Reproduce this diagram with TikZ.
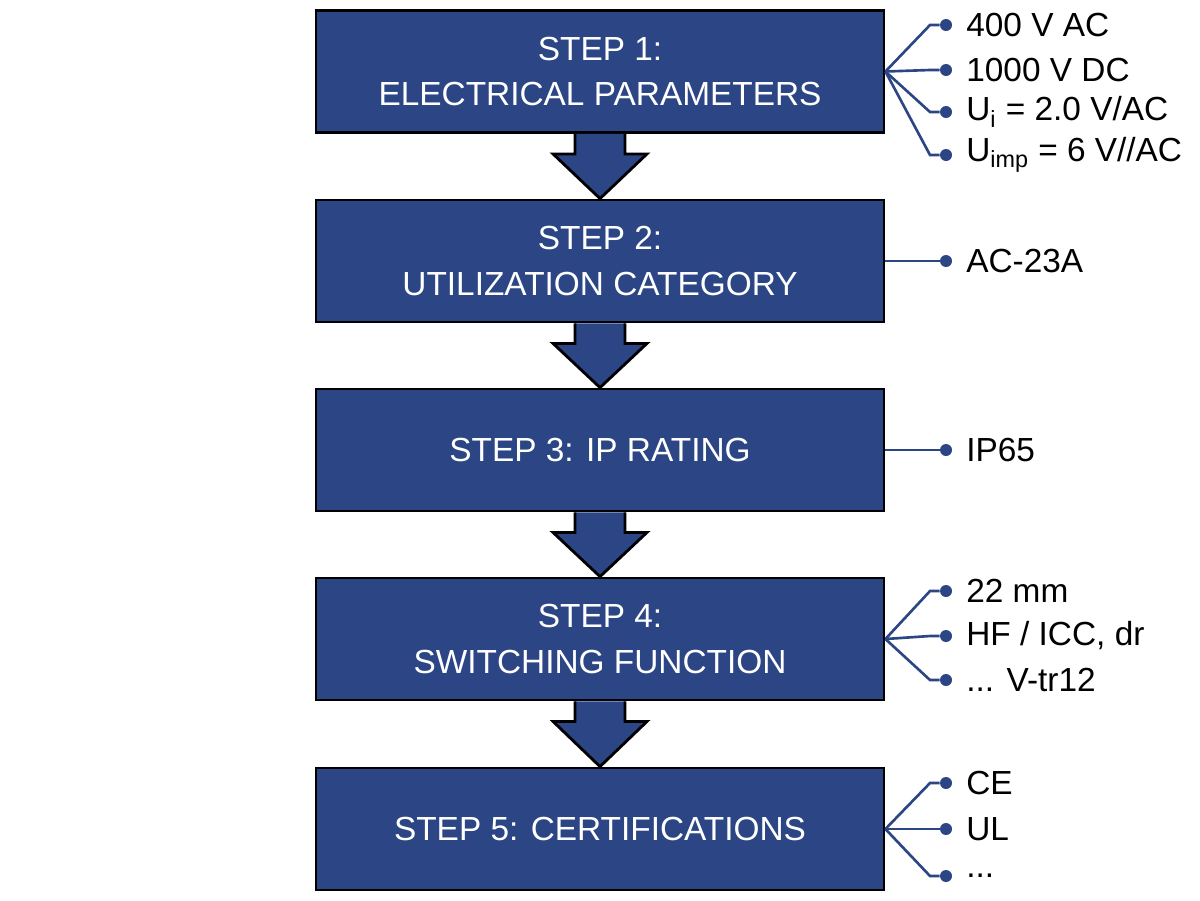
\documentclass[tikz,border=0pt]{standalone}
\usepackage{fontspec}
\setmainfont{Liberation Sans}
\usetikzlibrary{calc}
\definecolor{stepblue}{HTML}{2B4585}
\begin{document}
\begin{tikzpicture}[
  stage/.style={draw=black, line width=1.6pt, fill=stepblue, text=white, minimum width=11.36cm, minimum height=2.44cm, align=center, font=\fontsize{19}{26}\selectfont},
  flow/.style={draw=black, line width=1.6pt, fill=stepblue, line join=miter},
  dot/.style={circle, fill=stepblue, inner sep=0pt, minimum size=0.24cm},
  item/.style={anchor=west, inner sep=0pt, font=\fontsize{19}{22}\selectfont},
  wire/.style={draw=stepblue, line width=1.5pt}]
\useasboundingbox (0,0) rectangle (24,-18);
\node [stage] (s1) at (12,-1.43) {STEP 1:\\ELECTRICAL PARAMETERS};
\node [stage] (s2) at (12,-5.22) {STEP 2:\\UTILIZATION CATEGORY};
\node [stage] (s3) at (12,-9.0) {STEP 3: IP RATING};
\node [stage] (s4) at (12,-12.78) {STEP 4:\\SWITCHING FUNCTION};
\node [stage] (s5) at (12,-16.58) {STEP 5: CERTIFICATIONS};

% block arrows between the steps
\foreach \a/\b in {s1/s2, s2/s3, s3/s4, s4/s5} {
  \draw [flow] ($(\a.south)+(-0.5,0)$) -- ($(\a.south)+(-0.5,-0.4)$) -- ($(\a.south)+(-0.94,-0.4)$)
    -- (\b.north) -- ($(\a.south)+(0.94,-0.4)$) -- ($(\a.south)+(0.5,-0.4)$) -- ($(\a.south)+(0.5,0)$);
}

% items of step 1
\node [dot] (d11) at (18.92,-0.50) {};
\node [dot] (d12) at (18.92,-1.40) {};
\node [dot] (d13) at (18.92,-2.24) {};
\node [dot] (d14) at (18.92,-3.10) {};
\node [item] (t11) at (19.32,-0.50) {400 V AC};
\node [item] (t12) at (19.32,-1.40) {1000 V DC};
\node [item] (t13) at (19.32,-2.24) {U\textsubscript{i} = 2.0 V/AC};
\node [item] (t14) at (19.32,-3.10) {U\textsubscript{imp} = 6 V//AC};
\draw [wire] (s1.east) -- (18.6,-0.50) -- (d11);
\draw [wire] (s1.east) -- (18.6,-1.40) -- (d12);
\draw [wire] (s1.east) -- (18.6,-2.24) -- (d13);
\draw [wire] (s1.east) -- (18.6,-3.10) -- (d14);

% items of steps 2 and 3
\node [dot] (d21) at (18.92,-5.22) {};
\node [item] (t21) at (19.32,-5.22) {AC-23A};
\draw [wire] (s2.east) -- (d21);
\node [dot] (d31) at (18.92,-9.0) {};
\node [item] (t31) at (19.32,-9.0) {IP65};
\draw [wire] (s3.east) -- (d31);

% items of step 4
\node [dot] (d41) at (18.92,-11.82) {};
\node [dot] (d42) at (18.92,-12.72) {};
\node [dot] (d43) at (18.92,-13.60) {};
\node [item] (t41) at (19.32,-11.82) {22 mm};
\node [item] (t42) at (19.32,-12.72) {HF / ICC, dr};
\node [item] (t43) at (19.32,-13.60) {... V-tr12};
\draw [wire] (s4.east) -- (18.6,-11.82) -- (d41);
\draw [wire] (s4.east) -- (18.6,-12.72) -- (d42);
\draw [wire] (s4.east) -- (18.6,-13.60) -- (d43);

% items of step 5
\node [dot] (d51) at (18.92,-15.66) {};
\node [dot] (d52) at (18.92,-16.58) {};
\node [dot] (d53) at (18.92,-17.52) {};
\node [item] (t51) at (19.32,-15.66) {CE};
\node [item] (t52) at (19.32,-16.58) {UL};
\node [item] (t53) at (19.32,-17.52) {...};
\draw [wire] (s5.east) -- (18.6,-15.66) -- (d51);
\draw [wire] (s5.east) -- (18.6,-16.58) -- (d52);
\draw [wire] (s5.east) -- (18.6,-17.52) -- (d53);
\end{tikzpicture}
\end{document}
